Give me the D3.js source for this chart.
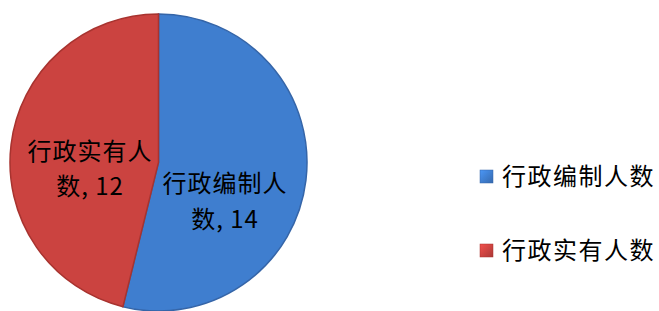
<!DOCTYPE html>
<html>
<head>
<meta charset="utf-8">
<script src="https://cdn.jsdelivr.net/npm/d3@7"></script>
<style>
  body { margin: 0; background: #fff; }
  svg { display: block; }
</style>
</head>
<body>
<div id="chart"></div>
<script>
const categories = ["行政编制人数", "行政实有人数"];
const values = [14, 12];
const colors = ["#3f7ecf", "#cb4340"];
const edgeColors = ["#3565a8", "#a8332f"];

const width = 659, height = 311;
const cx = 158.5, cy = 162.5, radius = 148.5;

const svg = d3.select("#chart")
  .append("svg")
  .attr("width", width)
  .attr("height", height);

const defs = svg.append("defs");
categories.forEach((c, i) => {
  const lg = defs.append("linearGradient")
    .attr("id", "lgrad" + i)
    .attr("x1", 0).attr("y1", 0).attr("x2", 1).attr("y2", 1);
  lg.append("stop").attr("offset", "0%").attr("stop-color", d3.color(colors[i]).brighter(0.5));
  lg.append("stop").attr("offset", "100%").attr("stop-color", d3.color(colors[i]).darker(0.5));
});

const pie = d3.pie().sort(null).value(d => d);
const arcs = pie(values);
const arc = d3.arc().innerRadius(0).outerRadius(radius);

svg.append("g")
  .attr("transform", `translate(${cx},${cy})`)
  .selectAll("path")
  .data(arcs)
  .enter()
  .append("path")
  .attr("d", arc)
  .attr("fill", (d, i) => colors[i])
  .attr("stroke", (d, i) => edgeColors[i])
  .attr("stroke-width", 1.5);

// data labels
const fontFamily = "'Noto Sans CJK SC', 'Microsoft YaHei', sans-serif";
const labelPos = [
  { x: 225, y1: 192, y2: 228 },
  { x: 90, y1: 160, y2: 195 }
];
arcs.forEach((d, i) => {
  const name = categories[i];
  const line1 = name.slice(0, 5);
  const line2 = name.slice(5) + ", " + values[i];
  const t = svg.append("text")
    .attr("text-anchor", "middle")
    .style("font-family", fontFamily)
    .style("font-size", "24px")
    .style("letter-spacing", "1px")
    .attr("fill", "#000");
  t.append("tspan").attr("x", labelPos[i].x).attr("y", labelPos[i].y1).text(line1);
  t.append("tspan").attr("x", labelPos[i].x).attr("y", labelPos[i].y2).text(line2);
});

// legend
const legend = svg.append("g")
  .selectAll("g")
  .data(categories)
  .enter()
  .append("g")
  .attr("transform", (d, i) => `translate(480,${170 + i * 74})`);

legend.append("rect")
  .attr("width", 13)
  .attr("height", 13)
  .attr("fill", (d, i) => `url(#lgrad${i})`)
  .attr("stroke", (d, i) => edgeColors[i])
  .attr("stroke-width", 0.5);

legend.append("text")
  .attr("x", 22)
  .attr("y", 15)
  .style("font-family", fontFamily)
  .style("font-size", "24px")
  .style("letter-spacing", "1.5px")
  .attr("fill", "#000")
  .text(d => d);
</script>
</body>
</html>
